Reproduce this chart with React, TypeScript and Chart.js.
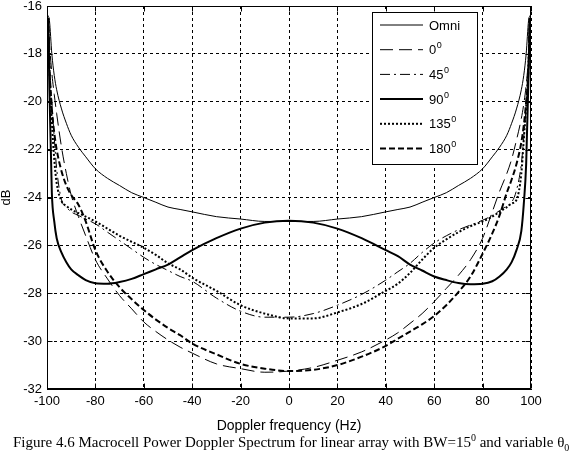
import React, { useEffect, useRef } from "react";
import { Chart, registerables } from "chart.js";
Chart.register(...registerables);

// Doppler frequency (Hz)
const freqs = [-99.5, -99, -98, -97, -96, -94, -92, -90, -87, -84, -80, -75, -70, -65, -60, -55, -50, -45, -40, -30, -20, -10, 0, 10, 20, 30, 40, 45, 50, 55, 60, 65, 70, 75, 80, 84, 87, 90, 92, 94, 96, 97, 98, 99, 99.5];

// Power (dB)
const omni = [-16.4, -16.6, -18.0, -18.9, -19.5, -20.3, -20.9, -21.4, -21.9, -22.3, -22.8, -23.2, -23.5, -23.8, -24.0, -24.2, -24.4, -24.5, -24.6, -24.8, -24.9, -25.0, -25.0, -25.0, -24.9, -24.8, -24.6, -24.5, -24.4, -24.2, -24.0, -23.8, -23.5, -23.2, -22.8, -22.3, -21.9, -21.4, -20.9, -20.3, -19.5, -18.9, -18.0, -16.6, -16.4];
const deg0 = [-16.5, -17.5, -18.8, -19.7, -20.5, -21.9, -23.0, -23.9, -24.8, -25.6, -26.6, -27.4, -28.1, -28.65, -29.2, -29.6, -29.95, -30.25, -30.5, -30.95, -31.15, -31.3, -31.25, -31.1, -30.8, -30.45, -29.95, -29.65, -29.26, -28.85, -28.35, -27.8, -27.25, -26.6, -25.7, -24.6, -23.75, -23.0, -22.4, -21.6, -20.7, -20.1, -19.3, -18.0, -16.5];
const deg45 = [-16.5, -18.3, -20.0, -21.5, -22.8, -24.1, -24.4, -24.6, -24.75, -24.9, -25.1, -25.45, -25.8, -26.15, -26.5, -26.8, -27.05, -27.3, -27.5, -28.2, -28.75, -29.0, -29.0, -28.85, -28.5, -28.05, -27.45, -27.1, -26.75, -26.3, -25.9, -25.6, -25.35, -25.15, -24.95, -24.75, -24.55, -24.35, -24.2, -23.7, -22.6, -21.5, -20.2, -18.5, -16.5];
const deg90 = [-16.5, -19.5, -23.8, -25.0, -25.7, -26.3, -26.7, -27.0, -27.25, -27.45, -27.58, -27.6, -27.53, -27.4, -27.2, -27.0, -26.8, -26.5, -26.2, -25.7, -25.3, -25.05, -24.97, -25.05, -25.3, -25.7, -26.2, -26.45, -26.8, -27.05, -27.3, -27.45, -27.57, -27.62, -27.6, -27.5, -27.3, -27.0, -26.7, -26.2, -25.4, -24.3, -22.6, -18.8, -16.5];
const deg135 = [-16.5, -18.5, -20.8, -22.4, -23.4, -24.15, -24.35, -24.5, -24.65, -24.8, -25.0, -25.3, -25.6, -25.85, -26.1, -26.4, -26.75, -27.0, -27.35, -27.9, -28.5, -28.85, -29.05, -29.05, -28.8, -28.45, -27.9, -27.6, -27.15, -26.6, -26.1, -25.75, -25.45, -25.2, -25.0, -24.8, -24.6, -24.4, -24.25, -24.1, -23.0, -21.6, -20.2, -18.3, -16.5];
const deg180 = [-16.5, -18.5, -20.3, -21.3, -22.0, -22.9, -23.5, -23.9, -24.3, -25.0, -26.2, -27.1, -27.75, -28.25, -28.7, -29.1, -29.45, -29.75, -30.1, -30.55, -30.95, -31.15, -31.25, -31.2, -31.0, -30.65, -30.2, -29.9, -29.6, -29.3, -28.95, -28.5, -27.95, -27.3, -26.35, -25.5, -24.75, -23.8, -23.25, -22.6, -21.7, -21.0, -20.0, -18.5, -16.5];

const seriesNames = ["Omni", "0", "45", "90", "135", "180"];
const seriesSup = ["", "0", "0", "0", "0", "0"];
const seriesValues = [omni, deg0, deg45, deg90, deg135, deg180];
const seriesDash = [[], [13, 6], [10, 4, 2, 4], [], [2, 2], [6, 3]];
const seriesWidth = [1, 1, 1, 2, 2, 2];

const xMin = -100, xMax = 100, xStep = 20;
const yMin = -32, yMax = -16, yStep = 2;

const FONT = "'Liberation Sans', Arial, sans-serif";

const framePlugin = {
  id: "frameAndLegend",
  afterDraw(chart: any) {
    const { ctx, chartArea } = chart;
    const { left, top, right, bottom } = chartArea;
    const xs = chart.scales.x;
    const ys = chart.scales.y;
    ctx.save();
    ctx.strokeStyle = "#000";
    ctx.lineWidth = 1;
    ctx.setLineDash([]);
    const L = Math.round(left) + 0.5, R = Math.round(right) - 0.5;
    const T = Math.round(top) + 0.5, B = Math.round(bottom) - 0.5;
    ctx.strokeRect(L, T, R - L, B - T);
    // inward ticks
    ctx.beginPath();
    for (let v = xMin; v <= xMax; v += xStep) {
      const px = Math.round(xs.getPixelForValue(v)) + 0.5;
      ctx.moveTo(px, B); ctx.lineTo(px, B - 5);
      ctx.moveTo(px, T); ctx.lineTo(px, T + 5);
    }
    for (let v = yMin; v <= yMax; v += yStep) {
      const py = Math.round(ys.getPixelForValue(v)) + 0.5;
      ctx.moveTo(L, py); ctx.lineTo(L + 5, py);
      ctx.moveTo(R, py); ctx.lineTo(R - 5, py);
    }
    ctx.stroke();

    // legend
    const bx = 372.5, by = 12.5, bw = 105, bh = 152;
    ctx.fillStyle = "#fff";
    ctx.fillRect(bx, by, bw, bh);
    ctx.strokeRect(bx, by, bw, bh);
    for (let i = 0; i < seriesNames.length; i++) {
      const yy = 25 + i * 24.7;
      ctx.beginPath();
      ctx.setLineDash(seriesDash[i]);
      ctx.lineWidth = seriesWidth[i];
      ctx.moveTo(380, yy);
      ctx.lineTo(423, yy);
      ctx.stroke();
      ctx.setLineDash([]);
      ctx.fillStyle = "#000";
      ctx.font = `13px ${FONT}`;
      ctx.textBaseline = "middle";
      ctx.textAlign = "left";
      ctx.fillText(seriesNames[i], 429, yy + 1);
      if (seriesSup[i]) {
        const w = ctx.measureText(seriesNames[i]).width;
        ctx.font = `9px ${FONT}`;
        ctx.fillText(seriesSup[i], 429 + w + 0.5, yy - 4);
      }
    }
    ctx.restore();
  },
};

export default function App() {
  const ref = useRef<HTMLCanvasElement | null>(null);
  useEffect(() => {
    document.body.style.margin = "0";
    const canvas = ref.current;
    if (!canvas) return;
    const datasets = seriesValues.map((vals, i) => ({
      label: seriesNames[i],
      data: freqs.map((f, j) => ({ x: f, y: vals[j] })),
      borderColor: "#000",
      backgroundColor: "#000",
      borderWidth: seriesWidth[i],
      borderDash: seriesDash[i],
      pointRadius: 0,
      fill: false,
      cubicInterpolationMode: "monotone" as const,
    }));
    const chart = new Chart(canvas, {
      type: "line",
      data: { datasets },
      options: {
        animation: false,
        responsive: false,
        devicePixelRatio: 1,
        layout: { padding: { left: 0, right: 45, top: 6, bottom: 20 } },
        plugins: { legend: { display: false }, tooltip: { enabled: false } },
        scales: {
          x: {
            type: "linear",
            min: xMin,
            max: xMax,
            ticks: { stepSize: xStep, color: "#000", font: { family: FONT, size: 13 }, padding: 5, maxRotation: 0 },
            grid: { color: "#000", lineWidth: 1, drawTicks: false },
            border: { display: true, color: "#000", dash: [3, 3] },
            title: { display: true, text: "Doppler frequency (Hz)", color: "#000", font: { family: FONT, size: 14, lineHeight: 1.2 }, padding: { top: 0, bottom: 4 } },
            afterFit: (s: any) => { s.height = 50; s.paddingLeft = 0; s.paddingRight = 0; },
          },
          y: {
            type: "linear",
            min: yMin,
            max: yMax,
            ticks: { stepSize: yStep, color: "#000", font: { family: FONT, size: 13 }, padding: 5 },
            grid: { color: "#000", lineWidth: 1, drawTicks: false },
            border: { display: true, color: "#000", dash: [3, 3] },
            title: { display: true, text: "dB", color: "#000", font: { family: FONT, size: 13, lineHeight: 1 }, padding: { top: 0, bottom: 0 } },
            afterFit: (s: any) => { s.width = 47; s.paddingTop = 0; s.paddingBottom = 0; },
          },
        },
      },
      plugins: [framePlugin],
    });
    return () => chart.destroy();
  }, []);

  return (
    <div style={{ position: "relative", width: 576, height: 459, overflow: "hidden", background: "#fff" }}>
      <canvas ref={ref} width={576} height={459} style={{ width: 576, height: 459, display: "block" }} />
      <div
        style={{
          position: "absolute",
          left: 13,
          top: 434,
          fontFamily: "'Liberation Serif', 'Times New Roman', serif",
          fontSize: 15,
          lineHeight: "17px",
          whiteSpace: "nowrap",
          color: "#000",
        }}
      >
        Figure 4.6 Macrocell Power Doppler Spectrum for linear array with BW=15<sup style={{ fontSize: 10, lineHeight: 0 }}>0</sup> and variable θ<sub style={{ fontSize: 10, lineHeight: 0 }}>0</sub>
      </div>
    </div>
  );
}
